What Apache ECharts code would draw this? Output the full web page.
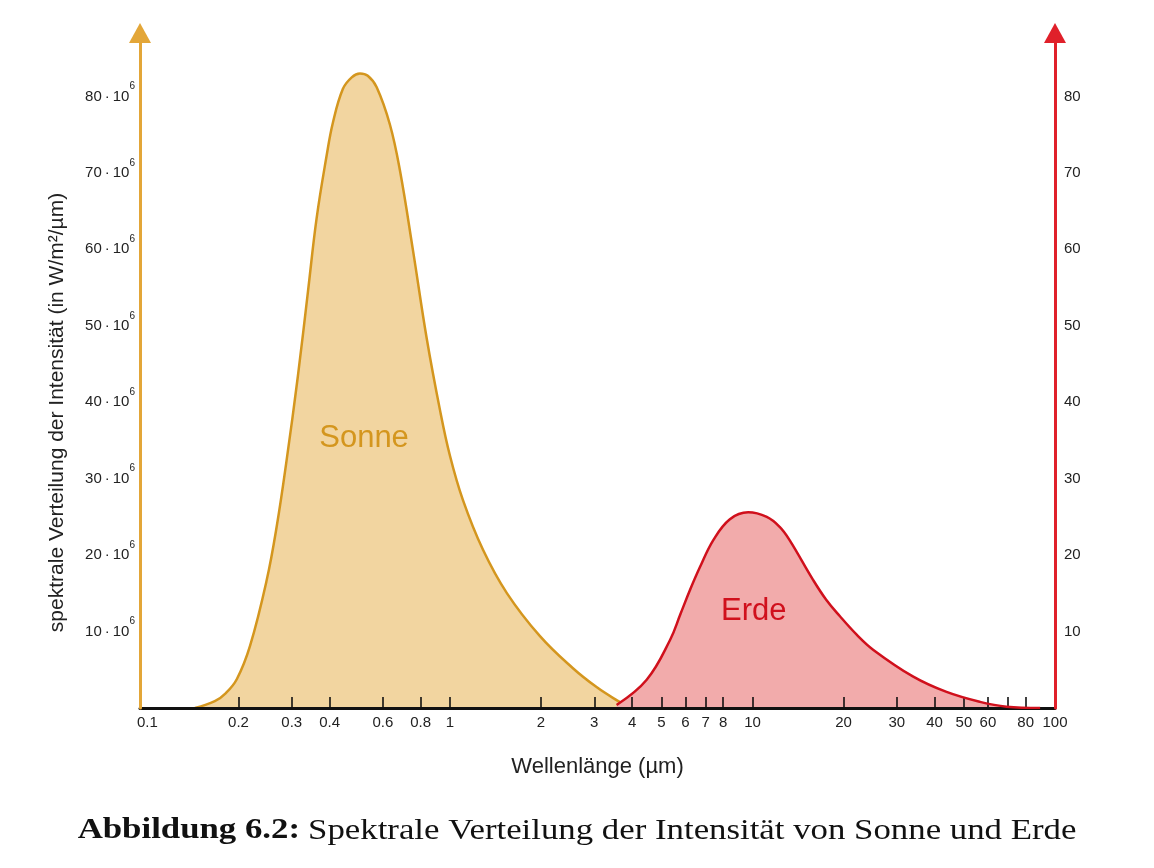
<!DOCTYPE html>
<html>
<head>
<meta charset="utf-8">
<script src="https://cdn.jsdelivr.net/npm/echarts@6/dist/echarts.min.js"></script>
<style>html,body{margin:0;padding:0;background:#fff;}#c{width:1154px;height:868px;}</style>
</head>
<body>
<div id="c"></div>
<script>
// wavelength in µm, intensity of the sun in 10^6 W/m²/µm (left axis)
const sunWavelength = [0.1436, 0.167, 0.1817, 0.1976, 0.2186, 0.2478, 0.2674, 0.2884, 0.3145, 0.3394, 0.3624, 0.3913, 0.4104, 0.4428, 0.4735, 0.504, 0.535, 0.5726, 0.6334, 0.6835, 0.7545, 0.8374, 0.9267, 1.0, 1.104, 1.286, 1.544, 1.984, 2.55, 3.06, 3.565, 3.88];
const sunIntensity  = [0, 0.9, 1.96, 3.8, 8.2, 16.7, 23.7, 32.4, 43.5, 54.5, 64.05, 72.3, 76.6, 81.0, 82.5, 83.0, 82.7, 81.2, 76.3, 70.3, 59.9, 48.4, 39.0, 33.0, 27.2, 20.7, 15.0, 9.4, 5.2, 2.7, 1.0, 0.2];
// wavelength in µm, intensity of the earth (right axis)
const earthWavelength = [3.555, 4.47, 5.34, 5.78, 6.21, 6.70, 7.43, 8.42, 9.68, 11.15, 12.3, 13.25, 15.84, 17.5, 19.46, 22.1, 25.1, 34.0, 43.8, 56.5, 69.1, 89.3];
const earthIntensity  = [0.4, 3.7, 8.9, 12.3, 15.4, 18.4, 22.0, 24.7, 25.6, 25.0, 23.7, 22.0, 16.8, 14.2, 12.0, 9.6, 7.6, 4.1, 2.1, 0.8, 0.17, 0];
const xTickValues  = [0.2, 0.3, 0.4, 0.6, 0.8, 1, 2, 3, 4, 5, 6, 7, 8, 10, 20, 30, 40, 50, 60, 70, 80];
const xLabelValues = [0.1, 0.2, 0.3, 0.4, 0.6, 0.8, 1, 2, 3, 4, 5, 6, 7, 8, 10, 20, 30, 40, 50, 60, 80, 100];
const yTickInterval = 10;
const seriesNames = ['Sonne', 'Erde'];
const xAxisTitle = 'Wellenlänge (µm)';
const yAxisTitle = 'spektrale Verteilung der Intensität (in W/m²/µm)';
const captionBold = 'Abbildung 6.2:';
const captionText = 'Spektrale Verteilung der Intensität von Sonne und Erde';

const zip = (a, b) => a.map((v, i) => [v, b[i]]);
const SANS = 'Liberation Sans, Arial, sans-serif';
const SUN = '#D4961E', SUNFILL = '#F2D5A0', SUNAXIS = '#E3A638';
const EARTH = '#D0101C', EARTHFILL = '#F2ABAB', EARTHAXIS = '#E0202A';

const chart = echarts.init(document.getElementById('c'));
chart.setOption({
  backgroundColor: '#fff',
  animation: false,
  grid: { left: 140, right: 99, top: 33, bottom: 160, containLabel: false },
  xAxis: {
    type: 'log', logBase: 10, min: 0.0945, max: 100,
    name: xAxisTitle, nameLocation: 'middle', nameGap: 48,
    nameTextStyle: { fontFamily: SANS, fontSize: 22, color: '#222' },
    axisLine: { lineStyle: { color: '#111', width: 3 } },
    axisTick: { show: true, inside: true, length: 11, customValues: xTickValues, lineStyle: { color: '#111', width: 1.6 } },
    minorTick: { show: false },
    splitLine: { show: false },
    axisLabel: { customValues: xLabelValues, fontFamily: SANS, fontSize: 15, color: '#222', margin: 7,
      formatter: v => String(+(+v).toPrecision(3)) },
    z: 3
  },
  yAxis: [{
    type: 'value', min: 0, max: 88.3, interval: yTickInterval, position: 'left',
    name: yAxisTitle, nameLocation: 'middle', nameGap: 72, nameRotate: 90,
    nameTextStyle: { fontFamily: SANS, fontSize: 21, color: '#222', padding: [0, 84, 0, 0] },
    axisLine: { show: true, symbol: ['none', 'triangle'], symbolSize: [22, 20], lineStyle: { color: SUNAXIS, width: 3 } },
    axisTick: { show: false },
    splitLine: { show: false },
    axisLabel: { margin: 5, showMaxLabel: false,
      formatter: v => v === 0 ? '' : '{a|' + v + '\u2009·\u200910}{b|6}',
      rich: {
        a: { fontFamily: SANS, fontSize: 15, color: '#222', lineHeight: 30 },
        b: { fontFamily: SANS, fontSize: 10, color: '#222', verticalAlign: 'top', lineHeight: 11 }
      } },
    z: 4
  }, {
    type: 'value', min: 0, max: 88.3, interval: yTickInterval, position: 'right',
    axisLine: { show: true, symbol: ['none', 'triangle'], symbolSize: [22, 20], lineStyle: { color: EARTHAXIS, width: 3 } },
    axisTick: { show: false },
    splitLine: { show: false },
    axisLabel: { margin: 9, showMaxLabel: false, fontFamily: SANS, fontSize: 15, color: '#222',
      formatter: v => v === 0 ? '' : String(v) },
    z: 4
  }],
  series: [{
    name: seriesNames[0], type: 'line', yAxisIndex: 0, smooth: 0.4, showSymbol: false,
    data: zip(sunWavelength, sunIntensity),
    lineStyle: { color: SUN, width: 2.5 }, itemStyle: { color: SUN },
    areaStyle: { color: SUNFILL, opacity: 1 },
    markPoint: { symbol: 'circle', symbolSize: 1, silent: true,
      itemStyle: { color: 'rgba(0,0,0,0)' },
      label: { show: true, position: 'inside', formatter: seriesNames[0], fontFamily: SANS, fontSize: 31, color: SUN },
      data: [{ coord: [0.52, 35.3] }] },
    z: 2
  }, {
    name: seriesNames[1], type: 'line', yAxisIndex: 1, smooth: 0.4, showSymbol: false,
    data: zip(earthWavelength, earthIntensity),
    lineStyle: { color: EARTH, width: 2.5 }, itemStyle: { color: EARTH },
    areaStyle: { color: EARTHFILL, opacity: 1 },
    markPoint: { symbol: 'circle', symbolSize: 1, silent: true,
      itemStyle: { color: 'rgba(0,0,0,0)' },
      label: { show: true, position: 'inside', formatter: seriesNames[1], fontFamily: SANS, fontSize: 31, color: EARTH },
      data: [{ coord: [10.1, 12.6] }] },
    z: 3
  }],
  graphic: [{
    type: 'text', x: 577, y: 831, scaleX: 1.2,
    style: {
      text: '{b|' + captionBold + '}  {n|' + captionText + '}',
      align: 'center', verticalAlign: 'middle',
      rich: {
        b: { fontFamily: 'Liberation Serif, serif', fontWeight: 'bold', fontSize: 29, fill: '#111' },
        n: { fontFamily: 'Liberation Serif, serif', fontSize: 29, fill: '#111' }
      }
    }
  }]
});
</script>
</body>
</html>
